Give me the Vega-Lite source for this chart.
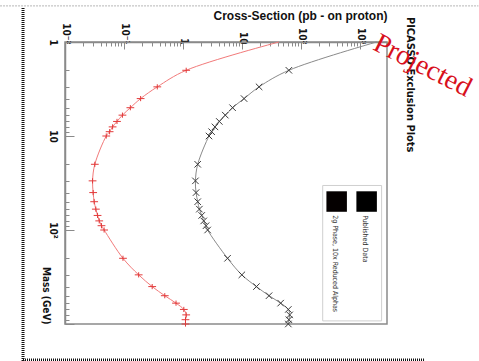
{
  "$schema": "https://vega.github.io/schema/vega-lite/v6.json",
  "width": 322,
  "height": 282,
  "autosize": "none",
  "padding": {"left": 65, "top": 42, "right": 92, "bottom": 37},
  "background": "white",
  "config": {"view": {"stroke": "#8a8a8a", "strokeWidth": 1.5}},
  "datasets": {
    "curves": [
      {"series": "2g Phase, 10x Reduced Alphas", "mass": 1, "cs": 42},
      {"series": "2g Phase, 10x Reduced Alphas", "mass": 2, "cs": 1.13},
      {"series": "2g Phase, 10x Reduced Alphas", "mass": 3, "cs": 0.366},
      {"series": "2g Phase, 10x Reduced Alphas", "mass": 4, "cs": 0.191},
      {"series": "2g Phase, 10x Reduced Alphas", "mass": 5, "cs": 0.128},
      {"series": "2g Phase, 10x Reduced Alphas", "mass": 6, "cs": 0.094},
      {"series": "2g Phase, 10x Reduced Alphas", "mass": 7, "cs": 0.076},
      {"series": "2g Phase, 10x Reduced Alphas", "mass": 8, "cs": 0.064},
      {"series": "2g Phase, 10x Reduced Alphas", "mass": 9, "cs": 0.057},
      {"series": "2g Phase, 10x Reduced Alphas", "mass": 10, "cs": 0.05},
      {"series": "2g Phase, 10x Reduced Alphas", "mass": 20, "cs": 0.032},
      {"series": "2g Phase, 10x Reduced Alphas", "mass": 30, "cs": 0.0293},
      {"series": "2g Phase, 10x Reduced Alphas", "mass": 40, "cs": 0.03},
      {"series": "2g Phase, 10x Reduced Alphas", "mass": 50, "cs": 0.0312},
      {"series": "2g Phase, 10x Reduced Alphas", "mass": 60, "cs": 0.0333},
      {"series": "2g Phase, 10x Reduced Alphas", "mass": 70, "cs": 0.0356},
      {"series": "2g Phase, 10x Reduced Alphas", "mass": 80, "cs": 0.038},
      {"series": "2g Phase, 10x Reduced Alphas", "mass": 90, "cs": 0.0415},
      {"series": "2g Phase, 10x Reduced Alphas", "mass": 100, "cs": 0.046},
      {"series": "2g Phase, 10x Reduced Alphas", "mass": 200, "cs": 0.096},
      {"series": "2g Phase, 10x Reduced Alphas", "mass": 300, "cs": 0.177},
      {"series": "2g Phase, 10x Reduced Alphas", "mass": 400, "cs": 0.3},
      {"series": "2g Phase, 10x Reduced Alphas", "mass": 500, "cs": 0.49},
      {"series": "2g Phase, 10x Reduced Alphas", "mass": 600, "cs": 0.76},
      {"series": "2g Phase, 10x Reduced Alphas", "mass": 700, "cs": 1.03},
      {"series": "2g Phase, 10x Reduced Alphas", "mass": 800, "cs": 1.13},
      {"series": "2g Phase, 10x Reduced Alphas", "mass": 900, "cs": 1.1},
      {"series": "2g Phase, 10x Reduced Alphas", "mass": 1000, "cs": 1.1},
      {"series": "Published Data", "mass": 1, "cs": 1900},
      {"series": "Published Data", "mass": 2, "cs": 62},
      {"series": "Published Data", "mass": 3, "cs": 19.4},
      {"series": "Published Data", "mass": 4, "cs": 10.8},
      {"series": "Published Data", "mass": 5, "cs": 6.9},
      {"series": "Published Data", "mass": 6, "cs": 5.19},
      {"series": "Published Data", "mass": 7, "cs": 4.11},
      {"series": "Published Data", "mass": 8, "cs": 3.47},
      {"series": "Published Data", "mass": 9, "cs": 3.05},
      {"series": "Published Data", "mass": 10, "cs": 2.75},
      {"series": "Published Data", "mass": 20, "cs": 1.77},
      {"series": "Published Data", "mass": 30, "cs": 1.62},
      {"series": "Published Data", "mass": 40, "cs": 1.66},
      {"series": "Published Data", "mass": 50, "cs": 1.77},
      {"series": "Published Data", "mass": 60, "cs": 1.89},
      {"series": "Published Data", "mass": 70, "cs": 2.07},
      {"series": "Published Data", "mass": 80, "cs": 2.24},
      {"series": "Published Data", "mass": 90, "cs": 2.45},
      {"series": "Published Data", "mass": 100, "cs": 2.61},
      {"series": "Published Data", "mass": 200, "cs": 5.67},
      {"series": "Published Data", "mass": 300, "cs": 9.9},
      {"series": "Published Data", "mass": 400, "cs": 17.5},
      {"series": "Published Data", "mass": 500, "cs": 28.6},
      {"series": "Published Data", "mass": 600, "cs": 45},
      {"series": "Published Data", "mass": 700, "cs": 60.7},
      {"series": "Published Data", "mass": 800, "cs": 64},
      {"series": "Published Data", "mass": 900, "cs": 62},
      {"series": "Published Data", "mass": 1000, "cs": 60.7}
    ],
    "one": [{}]
  },
  "layer": [
    {
      "data": {"name": "curves"},
      "mark": {"type": "line", "strokeWidth": 1, "interpolate": "catmull-rom"},
      "encoding": {
        "x": {
          "field": "cs", "type": "quantitative",
          "scale": {"type": "log", "domain": [0.01, 2850]},
          "axis": {
            "orient": "top",
            "title": "Cross-Section (pb - on proton)",
            "titleAnchor": "end",
            "titleFont": "Liberation Sans, sans-serif",
            "titleFontSize": 12,
            "titleFontWeight": "bold",
            "titleColor": "#111",
            "titlePadding": 0,
            "values": [0.01, 0.02, 0.03, 0.04, 0.05, 0.06, 0.07, 0.08, 0.09, 0.1, 0.2, 0.3, 0.4, 0.5, 0.6, 0.7, 0.8, 0.9, 1, 2, 3, 4, 5, 6, 7, 8, 9, 10, 20, 30, 40, 50, 60, 70, 80, 90, 100, 200, 300, 400, 500, 600, 700, 800, 900, 1000, 2000],
            "labelExpr": "datum.value == 0.01 ? '10⁻²' : datum.value == 0.1 ? '10⁻¹' : datum.value == 1 ? '1' : datum.value == 10 ? '10' : datum.value == 100 ? '10²' : datum.value == 1000 ? '10³' : ''",
            "labelAngle": 90,
            "labelFont": "Liberation Sans Narrow, DejaVu Sans Condensed, sans-serif",
            "labelFontSize": 10,
            "labelFontWeight": "bold",
            "labelColor": "#111",
            "labelPadding": 5,
            "labelOverlap": false,
            "labelFlush": false,
            "tickSize": {"condition": {"test": "indexof([0.01,0.1,1,10,100,1000], datum.value) >= 0", "value": -7}, "value": -4},
            "tickColor": "#8a8a8a",
            "domainColor": "#8a8a8a",
            "domainWidth": 1.5,
            "grid": false
          }
        },
        "y": {
          "field": "mass", "type": "quantitative",
          "scale": {"type": "log", "domain": [1, 1000], "reverse": true},
          "axis": {
            "orient": "left",
            "title": "Mass (GeV)",
            "titleAngle": 90,
            "titleAnchor": "end",
            "titleFont": "Liberation Sans Narrow, DejaVu Sans Condensed, sans-serif",
            "titleFontSize": 10,
            "titleFontWeight": "bold",
            "titleColor": "#111",
            "titlePadding": 2,
            "values": [1, 2, 3, 4, 5, 6, 7, 8, 9, 10, 20, 30, 40, 50, 60, 70, 80, 90, 100, 200, 300, 400, 500, 600, 700, 800, 900, 1000],
            "labelExpr": "datum.value == 1 ? '1' : datum.value == 10 ? '10' : datum.value == 100 ? '10²' : ''",
            "labelAngle": 90,
            "labelFont": "Liberation Sans Narrow, DejaVu Sans Condensed, sans-serif",
            "labelFontSize": 10,
            "labelFontWeight": "bold",
            "labelColor": "#111",
            "labelPadding": 17,
            "labelOverlap": false,
            "labelFlush": false,
            "tickSize": {"condition": {"test": "indexof([1,10,100,1000], datum.value) >= 0", "value": -9}, "value": -4},
            "tickColor": "#8a8a8a",
            "domainColor": "#8a8a8a",
            "domainWidth": 1.5,
            "grid": false
          }
        },
        "order": {"field": "mass", "type": "quantitative"},
        "color": {"field": "series", "type": "nominal", "scale": {"domain": ["Published Data", "2g Phase, 10x Reduced Alphas"], "range": ["#8a8a8a", "#f27a7a"]}, "legend": null}
      }
    },
    {
      "data": {"name": "curves"},
      "transform": [{"filter": "datum.mass > 1"}],
      "mark": {"type": "point", "filled": false, "strokeWidth": 1, "size": 42, "opacity": 1},
      "encoding": {
        "x": {"field": "cs", "type": "quantitative", "scale": {"type": "log", "domain": [0.01, 2850]}},
        "y": {"field": "mass", "type": "quantitative", "scale": {"type": "log", "domain": [1, 1000], "reverse": true}},
        "stroke": {"field": "series", "type": "nominal", "scale": {"domain": ["Published Data", "2g Phase, 10x Reduced Alphas"], "range": ["#3a3a3a", "#e23a3a"]}, "legend": null},
        "shape": {"field": "series", "type": "nominal", "scale": {"domain": ["Published Data", "2g Phase, 10x Reduced Alphas"], "range": ["M-1,-1L1,1M-1,1L1,-1", "M-1.2,0L1.2,0M0,-0.8L0,0.8"]}, "legend": null}
      }
    },
    {
      "data": {"name": "one"},
      "mark": {"type": "rect", "fill": "white", "stroke": "#cfcfcf", "strokeWidth": 1},
      "encoding": {
        "x": {"datum": 232, "type": "quantitative", "scale": {"type": "log", "domain": [0.01, 2850]}},
        "x2": {"datum": 2310},
        "y": {"datum": 33.6, "type": "quantitative", "scale": {"type": "log", "domain": [1, 1000], "reverse": true}},
        "y2": {"datum": 927}
      }
    },
    {
      "data": {"name": "one"},
      "mark": {"type": "square", "size": 420, "color": "#050000", "opacity": 1},
      "encoding": {
        "x": {"datum": 400, "type": "quantitative", "scale": {"type": "log", "domain": [0.01, 2850]}},
        "y": {"datum": 49.8, "type": "quantitative", "scale": {"type": "log", "domain": [1, 1000], "reverse": true}}
      }
    },
    {
      "data": {"name": "one"},
      "mark": {"type": "square", "size": 420, "color": "#000000", "opacity": 1},
      "encoding": {
        "x": {"datum": 1288, "type": "quantitative", "scale": {"type": "log", "domain": [0.01, 2850]}},
        "y": {"datum": 49.8, "type": "quantitative", "scale": {"type": "log", "domain": [1, 1000], "reverse": true}}
      }
    },
    {
      "data": {"name": "one"},
      "mark": {"type": "text", "text": "2g Phase, 10x Reduced Alphas", "angle": 90, "align": "left", "baseline": "middle", "fontSize": 7, "font": "Liberation Sans Narrow, DejaVu Sans Condensed, sans-serif", "color": "#333"},
      "encoding": {
        "x": {"datum": 371, "type": "quantitative", "scale": {"type": "log", "domain": [0.01, 2850]}},
        "y": {"datum": 69.5, "type": "quantitative", "scale": {"type": "log", "domain": [1, 1000], "reverse": true}}
      }
    },
    {
      "data": {"name": "one"},
      "mark": {"type": "text", "text": "Published Data", "angle": 90, "align": "left", "baseline": "middle", "fontSize": 7, "font": "Liberation Sans Narrow, DejaVu Sans Condensed, sans-serif", "color": "#333"},
      "encoding": {
        "x": {"datum": 1191, "type": "quantitative", "scale": {"type": "log", "domain": [0.01, 2850]}},
        "y": {"datum": 69.5, "type": "quantitative", "scale": {"type": "log", "domain": [1, 1000], "reverse": true}}
      }
    },
    {
      "data": {"name": "one"},
      "mark": {"type": "text", "text": "PICASSO Exclusion Plots", "angle": 90, "align": "left", "baseline": "middle", "fontSize": 11, "fontWeight": "bold", "font": "Liberation Sans Narrow, DejaVu Sans Condensed, sans-serif", "color": "#111"},
      "encoding": {
        "x": {"datum": 6886, "type": "quantitative", "scale": {"type": "log", "domain": [0.01, 2850]}},
        "y": {"datum": 0.541, "type": "quantitative", "scale": {"type": "log", "domain": [1, 1000], "reverse": true}}
      }
    },
    {
      "data": {"name": "one"},
      "mark": {"type": "text", "text": "Projected", "angle": 27, "align": "left", "baseline": "alphabetic", "fontSize": 28, "font": "Liberation Serif, DejaVu Serif, serif", "color": "#d8101c"},
      "encoding": {
        "x": {"datum": 1567, "type": "quantitative", "scale": {"type": "log", "domain": [0.01, 2850]}},
        "y": {"datum": 1.188, "type": "quantitative", "scale": {"type": "log", "domain": [1, 1000], "reverse": true}}
      }
    },
    {
      "data": {"name": "one"},
      "mark": {"type": "rule", "color": "#111", "strokeWidth": 3, "strokeDash": [1, 1]},
      "encoding": {
        "x": {"datum": 0.001945, "type": "quantitative", "scale": {"type": "log", "domain": [0.01, 2850]}},
        "y": {"datum": 0.434, "type": "quantitative", "scale": {"type": "log", "domain": [1, 1000], "reverse": true}},
        "y2": {"datum": 2535}
      }
    },
    {
      "data": {"name": "one"},
      "mark": {"type": "rule", "color": "#111", "strokeWidth": 3, "strokeDash": [1, 1]},
      "encoding": {
        "x": {"datum": 0.001945, "type": "quantitative", "scale": {"type": "log", "domain": [0.01, 2850]}},
        "x2": {"datum": 12330},
        "y": {"datum": 2415, "type": "quantitative", "scale": {"type": "log", "domain": [1, 1000], "reverse": true}}
      }
    },
    {
      "data": {"name": "one"},
      "mark": {"type": "rule", "color": "#b5b5b5", "strokeWidth": 1, "strokeDash": [2, 1]},
      "encoding": {
        "x": {"datum": 0.000794, "type": "quantitative", "scale": {"type": "log", "domain": [0.01, 2850]}},
        "x2": {"datum": 101000},
        "y": {"datum": 0.413, "type": "quantitative", "scale": {"type": "log", "domain": [1, 1000], "reverse": true}}
      }
    }
  ]
}
